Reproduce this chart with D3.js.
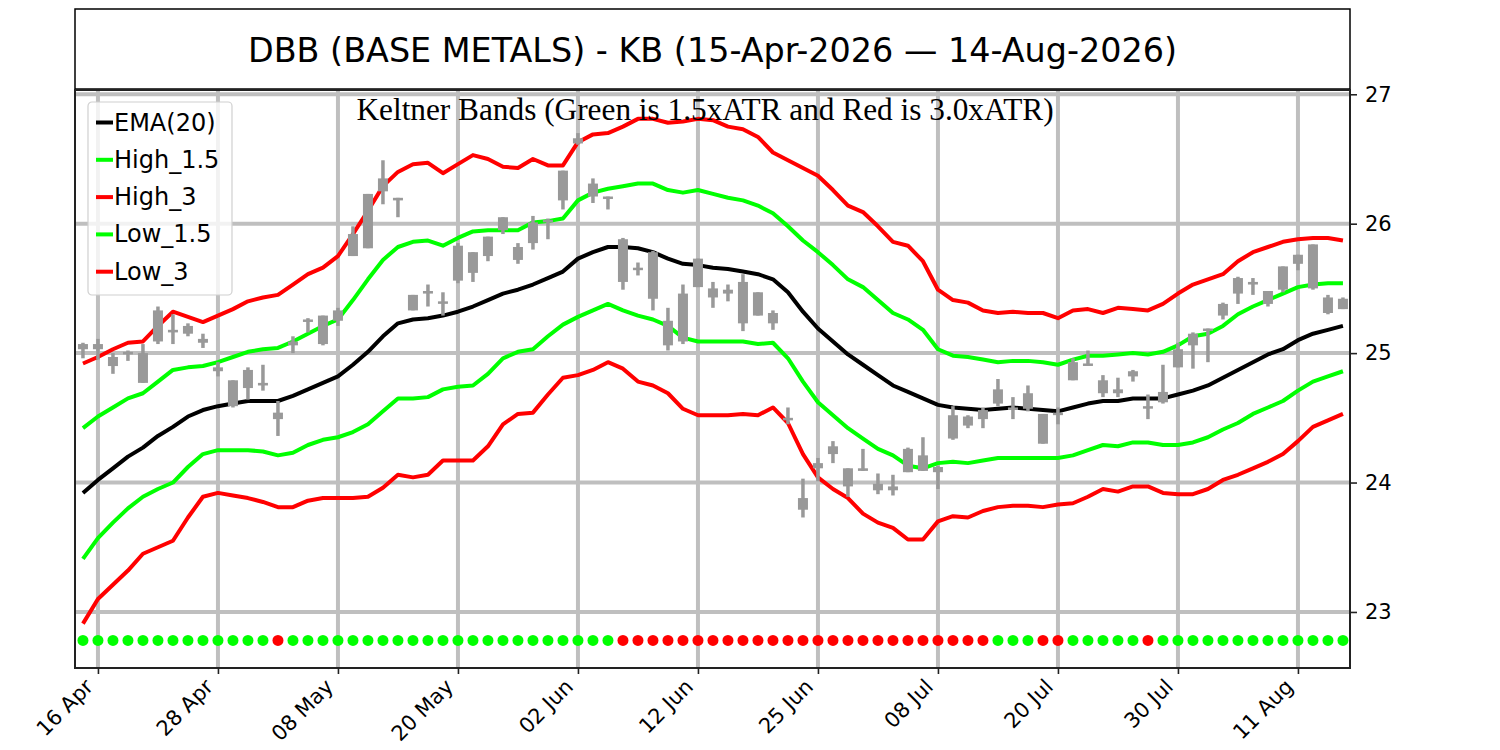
<!DOCTYPE html>
<html>
<head>
<meta charset="utf-8">
<script src="https://cdn.jsdelivr.net/npm/d3@7"></script>
<style>
body { margin: 0; background: #fff; }
text { font-family: "DejaVu Sans", sans-serif; fill: #000; }
</style>
</head>
<body>
<svg id="chart" width="1500" height="750"></svg>
<script>
// values, one entry per trading day (15 Apr .. 14 Aug 2026)
const ema = [23.92,24.02,24.11,24.20,24.27,24.36,24.43,24.51,24.56,24.59,24.61,24.63,24.63,24.63,24.67,24.72,24.77,24.82,24.91,25.01,
  25.13,25.23,25.26,25.27,25.29,25.32,25.36,25.41,25.46,25.49,25.53,25.58,25.63,25.73,25.78,25.82,25.82,25.81,25.78,25.73,
  25.69,25.68,25.66,25.65,25.63,25.61,25.57,25.47,25.32,25.19,25.09,24.99,24.91,24.83,24.75,24.70,24.65,24.60,24.58,24.57,
  24.56,24.57,24.58,24.57,24.56,24.55,24.58,24.61,24.63,24.63,24.65,24.65,24.65,24.68,24.71,24.75,24.81,24.87,24.93,24.99,
  25.03,25.10,25.15,25.18,25.21];
const high15 = [24.42,24.51,24.58,24.65,24.69,24.78,24.87,24.89,24.90,24.93,24.97,25.01,25.03,25.04,25.09,25.15,25.21,25.26,25.41,25.57,
  25.72,25.82,25.86,25.87,25.83,25.89,25.94,25.95,25.95,25.95,26.01,26.02,26.04,26.18,26.24,26.27,26.29,26.31,26.31,26.26,
  26.24,26.26,26.23,26.20,26.18,26.14,26.08,25.98,25.87,25.78,25.68,25.57,25.51,25.41,25.31,25.26,25.18,25.03,24.98,24.97,
  24.95,24.93,24.94,24.94,24.93,24.91,24.95,24.98,24.98,24.99,25.00,24.99,25.01,25.06,25.13,25.15,25.21,25.30,25.36,25.41,
  25.46,25.51,25.53,25.54,25.54];
const high3 = [24.92,24.97,25.03,25.08,25.09,25.21,25.32,25.28,25.24,25.29,25.34,25.40,25.43,25.45,25.53,25.61,25.66,25.75,25.92,26.10,
  26.29,26.40,26.46,26.47,26.39,26.46,26.53,26.50,26.44,26.43,26.50,26.45,26.45,26.63,26.69,26.70,26.75,26.81,26.81,26.78,
  26.79,26.81,26.80,26.75,26.73,26.67,26.55,26.49,26.43,26.37,26.26,26.14,26.09,25.98,25.86,25.83,25.71,25.49,25.41,25.39,
  25.33,25.31,25.32,25.31,25.31,25.27,25.33,25.34,25.31,25.35,25.34,25.33,25.38,25.46,25.53,25.57,25.61,25.71,25.78,25.82,
  25.86,25.88,25.89,25.89,25.87];
const low15 = [23.41,23.57,23.69,23.80,23.89,23.95,24.00,24.12,24.22,24.25,24.25,24.25,24.24,24.21,24.23,24.29,24.33,24.35,24.39,24.45,
  24.55,24.65,24.65,24.66,24.72,24.74,24.75,24.84,24.96,25.01,25.03,25.13,25.22,25.28,25.33,25.38,25.33,25.29,25.26,25.21,
  25.12,25.09,25.09,25.09,25.09,25.07,25.08,24.96,24.78,24.62,24.52,24.42,24.34,24.26,24.21,24.13,24.11,24.15,24.16,24.15,
  24.17,24.19,24.19,24.19,24.19,24.19,24.21,24.25,24.29,24.28,24.31,24.31,24.29,24.29,24.31,24.35,24.41,24.46,24.53,24.58,
  24.63,24.71,24.78,24.82,24.86];
const low3 = [22.91,23.10,23.21,23.32,23.45,23.50,23.55,23.73,23.89,23.92,23.90,23.88,23.85,23.81,23.81,23.86,23.88,23.88,23.88,23.89,
  23.96,24.06,24.04,24.06,24.17,24.17,24.17,24.28,24.45,24.53,24.54,24.68,24.81,24.83,24.87,24.93,24.88,24.78,24.75,24.69,
  24.57,24.52,24.52,24.52,24.53,24.52,24.58,24.46,24.22,24.04,23.95,23.88,23.76,23.69,23.65,23.56,23.56,23.70,23.74,23.73,
  23.78,23.81,23.82,23.82,23.81,23.83,23.84,23.89,23.95,23.93,23.97,23.97,23.92,23.91,23.91,23.95,24.02,24.06,24.11,24.16,
  24.22,24.32,24.43,24.48,24.53];

const open = [25.07,25.07,24.97,25.01,25.00,25.33,25.18,25.21,25.11,24.89,24.79,24.87,24.77,24.54,25.09,25.26,25.29,25.33,25.92,26.23,
  26.35,26.20,25.45,25.48,25.40,25.83,25.78,25.90,26.05,25.82,26.01,26.03,26.41,26.66,26.31,26.21,25.88,25.66,25.78,25.25,
  25.46,25.73,25.50,25.49,25.55,25.47,25.31,24.50,23.88,24.15,24.28,24.11,24.11,23.99,23.97,24.26,24.21,24.12,24.52,24.51,
  24.56,24.72,24.58,24.69,24.53,24.54,24.93,24.92,24.79,24.72,24.86,24.59,24.70,25.03,25.15,25.19,25.38,25.58,25.55,25.48,
  25.67,25.76,25.84,25.43,25.42];
const high = [25.08,25.11,25.00,25.02,25.07,25.36,25.30,25.23,25.15,24.93,24.79,24.89,24.91,24.63,25.13,25.27,25.29,25.35,25.98,26.23,
  26.49,26.20,25.45,25.53,25.47,25.85,25.78,25.90,26.05,25.85,26.06,26.04,26.41,26.70,26.35,26.21,25.89,25.70,25.79,25.35,
  25.53,25.73,25.55,25.53,25.61,25.47,25.33,24.58,24.03,24.19,24.32,24.11,24.26,24.07,24.06,24.27,24.35,24.13,24.59,24.52,
  24.58,24.80,24.66,24.75,24.53,24.58,24.96,25.02,24.83,24.81,24.87,24.68,24.91,25.08,25.16,25.19,25.39,25.59,25.58,25.48,
  25.67,25.76,25.84,25.45,25.43];
const low = [24.96,24.95,24.84,24.94,24.77,25.07,25.07,25.13,25.04,24.82,24.58,24.64,24.71,24.36,25.00,25.16,25.06,25.21,25.75,25.81,
  26.15,26.05,25.33,25.36,25.29,25.54,25.55,25.71,25.92,25.69,25.80,25.88,26.11,26.61,26.16,26.11,25.49,25.60,25.33,25.02,
  25.07,25.51,25.35,25.40,25.17,25.29,25.18,24.45,23.73,24.01,24.15,23.89,24.09,23.91,23.90,24.08,24.09,23.95,24.33,24.42,
  24.42,24.59,24.49,24.55,24.30,24.45,24.79,24.91,24.66,24.66,24.78,24.49,24.61,24.89,24.88,24.93,25.26,25.38,25.45,25.36,
  25.47,25.64,25.49,25.30,25.34];
const close = [25.03,25.03,24.90,24.99,24.77,25.09,25.16,25.15,25.08,24.86,24.59,24.73,24.75,24.49,25.06,25.25,25.07,25.25,25.75,25.81,
  26.25,26.18,25.33,25.46,25.39,25.56,25.62,25.75,25.95,25.72,25.85,26.01,26.18,26.62,26.21,26.20,25.55,25.65,25.42,25.06,
  25.09,25.51,25.43,25.46,25.23,25.29,25.23,24.49,23.79,24.11,24.22,23.97,24.09,23.94,23.94,24.08,24.09,24.08,24.34,24.44,
  24.49,24.61,24.57,24.57,24.30,24.53,24.79,24.91,24.69,24.69,24.82,24.58,24.62,24.89,25.06,25.18,25.29,25.46,25.53,25.38,
  25.49,25.69,25.50,25.31,25.34];

// 1 = green dot, 0 = red dot
const signal = [1,1,1,1,1,1,1,1,1,1,1,1,1,0,1,1,1,1,1,1,
  1,1,1,1,1,1,1,1,1,1,1,1,1,1,1,1,0,0,0,0,
  0,0,0,0,0,0,0,0,0,0,0,0,0,0,0,0,0,0,0,0,
  0,1,1,1,0,0,1,1,1,1,1,0,1,1,1,1,1,1,1,1,
  1,1,1,1,1];
const signalLevel = 22.78;

const tickIdx = [1, 9, 17, 25, 33, 41, 49, 57, 65, 73, 81];
const tickLabels = ['16 Apr', '28 Apr', '08 May', '20 May', '02 Jun', '12 Jun', '25 Jun', '08 Jul', '20 Jul', '30 Jul', '11 Aug'];
const yTicks = [23, 24, 25, 26, 27];

const series = [
  {name: 'EMA(20)', data: ema, color: '#000000'},
  {name: 'High_1.5', data: high15, color: '#00ff00'},
  {name: 'High_3', data: high3, color: '#ff0000'},
  {name: 'Low_1.5', data: low15, color: '#00ff00'},
  {name: 'Low_3', data: low3, color: '#ff0000'}
];

const svg = d3.select('#chart');
const box = {left: 75, right: 1350, top: 90, bottom: 668};

const x = d3.scaleLinear().domain([-0.53, 84.47]).range([box.left, box.right]);
const y = d3.scaleLinear().domain([22.567, 27.033]).range([box.bottom, box.top]);

// title box
svg.append('rect')
  .attr('x', box.left).attr('y', 9)
  .attr('width', box.right - box.left).attr('height', 80)
  .attr('fill', 'none').attr('stroke', '#000').attr('stroke-width', 1.5);
svg.append('text')
  .attr('x', (box.left + box.right) / 2).attr('y', 50)
  .attr('text-anchor', 'middle').attr('dominant-baseline', 'central')
  .style('font-size', '33.4px')
  .text('DBB (BASE METALS) - KB (15-Apr-2026 \u2014 14-Aug-2026)');

// grid
const grid = svg.append('g').attr('stroke', '#bfbfbf').attr('stroke-width', 4);
grid.selectAll('line.h').data(yTicks).join('line')
  .attr('x1', box.left).attr('x2', box.right)
  .attr('y1', d => y(d)).attr('y2', d => y(d));
grid.selectAll('line.v').data(tickIdx).join('line')
  .attr('y1', box.top).attr('y2', box.bottom)
  .attr('x1', d => x(d)).attr('x2', d => x(d));

// bands
const line = d3.line().x((d, i) => x(i)).y(d => y(d));
svg.append('g').selectAll('path').data(series).join('path')
  .attr('d', d => line(d.data))
  .attr('fill', 'none')
  .attr('stroke', d => d.color)
  .attr('stroke-width', 4)
  .attr('stroke-linejoin', 'round');

// candles
const candles = svg.append('g').attr('fill', '#999999').attr('stroke', '#999999');
candles.selectAll('line').data(open).join('line')
  .attr('x1', (d, i) => x(i)).attr('x2', (d, i) => x(i))
  .attr('y1', (d, i) => y(high[i])).attr('y2', (d, i) => y(low[i]))
  .attr('stroke-width', 3.5);
candles.selectAll('rect').data(open).join('rect')
  .attr('x', (d, i) => x(i) - 5)
  .attr('width', 10)
  .attr('y', (d, i) => y(Math.max(d, close[i])))
  .attr('height', (d, i) => Math.max(2.5, y(Math.min(d, close[i])) - y(Math.max(d, close[i]))))
  .attr('stroke', 'none');

// signal dots
svg.append('g').selectAll('circle').data(signal).join('circle')
  .attr('cx', (d, i) => x(i))
  .attr('cy', y(signalLevel))
  .attr('r', 5.5)
  .attr('fill', d => d ? '#00ff00' : '#ff0000');

// subtitle
svg.append('text')
  .attr('x', 705).attr('y', 120)
  .attr('text-anchor', 'middle')
  .style('font-family', '"Liberation Serif", serif')
  .style('font-size', '31.3px')
  .text('Keltner Bands (Green is 1.5xATR and Red is 3.0xATR)');

// frame
svg.append('rect')
  .attr('x', box.left).attr('y', box.top)
  .attr('width', box.right - box.left).attr('height', box.bottom - box.top)
  .attr('fill', 'none').attr('stroke', '#222').attr('stroke-width', 2);

// axes
const yAxis = svg.append('g')
  .attr('transform', `translate(${box.right},0)`)
  .call(d3.axisRight(y).tickValues(yTicks).tickSize(7).tickPadding(8).tickFormat(d3.format('d')));
yAxis.select('.domain').remove();
yAxis.selectAll('line').attr('stroke', '#222').attr('stroke-width', 1.6);
yAxis.selectAll('text').style('font-size', '21px').style('font-family', '"DejaVu Sans", sans-serif');

const xAxis = svg.append('g')
  .attr('transform', `translate(0,${box.bottom})`)
  .call(d3.axisBottom(x).tickValues(tickIdx).tickSize(6).tickFormat((d, i) => tickLabels[i]));
xAxis.select('.domain').remove();
xAxis.selectAll('line').attr('stroke', '#222').attr('stroke-width', 1.6);
xAxis.selectAll('text')
  .attr('x', 0).attr('y', 0).attr('dy', 0)
  .attr('text-anchor', 'end')
  .attr('transform', 'translate(-4,20) rotate(-45)')
  .style('font-size', '21px').style('font-family', '"DejaVu Sans", sans-serif');

// legend
const legend = svg.append('g').attr('transform', 'translate(88,102)');
legend.append('rect')
  .attr('width', 144).attr('height', 193).attr('rx', 4)
  .attr('fill', '#fff').attr('fill-opacity', 0.8)
  .attr('stroke', '#d0d0d0').attr('stroke-width', 1.2);
const item = legend.selectAll('g.item').data(series).join('g')
  .attr('transform', (d, i) => `translate(0,${20.5 + i * 37.3})`);
item.append('line')
  .attr('x1', 8).attr('x2', 25)
  .attr('stroke', d => d.color).attr('stroke-width', 4);
item.append('text')
  .attr('x', 26).attr('dominant-baseline', 'central')
  .style('font-size', '24px')
  .text(d => d.name);
</script>
</body>
</html>
